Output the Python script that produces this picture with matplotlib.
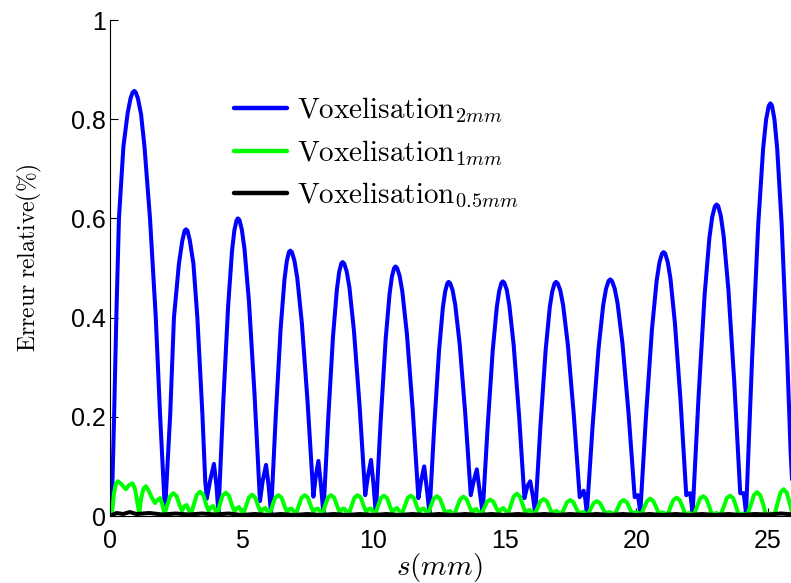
import matplotlib
matplotlib.use("Agg")
import matplotlib.pyplot as plt

# ---------------- data ----------------
s_2mm = [0.00, 0.07, 0.16, 0.24, 0.34, 0.51, 0.67, 0.78, 0.86, 0.92, 0.98, 1.06, 1.18, 1.31, 1.52, 1.74, 1.90, 2.00, 2.09,
         2.29, 2.43, 2.62, 2.748, 2.835, 2.89, 2.945, 3.032, 3.17, 3.32, 3.51, 3.62, 3.68, 3.80, 3.95, 4.05, 4.12,
         4.305, 4.49, 4.638, 4.727, 4.808, 4.86, 4.919, 5.011, 5.112, 5.28, 5.49, 5.616, 5.70, 5.80, 5.93, 6.03, 6.12,
         6.3025, 6.485, 6.631, 6.719, 6.799, 6.85, 6.912, 7.008, 7.114, 7.29, 7.51, 7.642, 7.73, 7.82, 7.92, 8.02, 8.11,
         8.2925, 8.475, 8.621, 8.709, 8.789, 8.84, 8.90, 8.995, 9.098, 9.27, 9.485, 9.614, 9.70, 9.80, 9.92, 10.02, 10.10,
         10.2875, 10.475, 10.625, 10.715, 10.798, 10.85, 10.911, 11.007, 11.111, 11.285, 11.503, 11.633, 11.72, 11.82, 11.94, 12.04, 12.14,
         12.3225, 12.505, 12.651, 12.739, 12.819, 12.87, 12.929, 13.021, 13.122, 13.29, 13.50, 13.626, 13.71, 13.82, 13.94, 14.05, 14.16,
         14.3525, 14.545, 14.699, 14.791, 14.876, 14.93, 14.987, 15.078, 15.176, 15.34, 15.545, 15.668, 15.75, 15.86, 15.97, 16.07, 16.16,
         16.3575, 16.555, 16.713, 16.808, 16.895, 16.95, 17.013, 17.112, 17.22, 17.40, 17.625, 17.76, 17.85, 17.93, 18.00, 18.06, 18.12,
         18.3425, 18.565, 18.743, 18.85, 18.948, 19.01, 19.075, 19.177, 19.289, 19.475, 19.708, 19.847, 19.94, 20.00, 20.06, 20.11, 20.15,
         20.3725, 20.595, 20.773, 20.88, 20.978, 21.04, 21.10, 21.195, 21.298, 21.47, 21.685, 21.814, 21.90, 21.98, 22.05, 22.10, 22.14,
         22.3675, 22.595, 22.777, 22.886, 22.986, 23.05, 23.113, 23.212, 23.32, 23.50, 23.725, 23.86, 23.95, 24.02, 24.08, 24.13, 24.17,
         24.4025, 24.635, 24.821, 24.933, 25.035, 25.10, 25.16, 25.253, 25.355, 25.525, 25.7375, 25.865, 25.95]
err_2mm = [0.000, 0.020, 0.210, 0.400, 0.600, 0.745, 0.812, 0.842, 0.854, 0.857, 0.854, 0.842, 0.810, 0.745, 0.600, 0.400, 0.207, 0.100, 0.008,
           0.207, 0.400, 0.509, 0.555, 0.575, 0.578, 0.575, 0.556, 0.509, 0.400, 0.207, 0.070, 0.035, 0.070, 0.105, 0.060, 0.005,
           0.230, 0.424, 0.535, 0.576, 0.596, 0.600, 0.597, 0.577, 0.538, 0.433, 0.248, 0.119, 0.030, 0.070, 0.103, 0.060, 0.005,
           0.205, 0.378, 0.477, 0.514, 0.532, 0.535, 0.532, 0.515, 0.481, 0.390, 0.229, 0.116, 0.039, 0.080, 0.111, 0.060, 0.005,
           0.196, 0.362, 0.456, 0.492, 0.509, 0.512, 0.509, 0.493, 0.461, 0.374, 0.222, 0.115, 0.042, 0.080, 0.113, 0.060, 0.005,
           0.193, 0.356, 0.448, 0.483, 0.500, 0.503, 0.500, 0.484, 0.452, 0.366, 0.215, 0.109, 0.036, 0.070, 0.100, 0.055, 0.005,
           0.181, 0.334, 0.421, 0.453, 0.469, 0.472, 0.469, 0.455, 0.425, 0.346, 0.207, 0.109, 0.042, 0.070, 0.094, 0.050, 0.005,
           0.181, 0.334, 0.421, 0.454, 0.470, 0.473, 0.470, 0.456, 0.425, 0.345, 0.203, 0.104, 0.036, 0.060, 0.070, 0.040, 0.005,
           0.181, 0.334, 0.421, 0.453, 0.469, 0.472, 0.469, 0.455, 0.425, 0.345, 0.204, 0.106, 0.038, 0.045, 0.051, 0.035, 0.005,
           0.183, 0.337, 0.425, 0.458, 0.474, 0.477, 0.474, 0.459, 0.429, 0.348, 0.206, 0.106, 0.038, 0.040, 0.042, 0.025, 0.005,
           0.204, 0.376, 0.474, 0.511, 0.529, 0.532, 0.529, 0.512, 0.479, 0.388, 0.230, 0.118, 0.042, 0.045, 0.046, 0.025, 0.005,
           0.241, 0.444, 0.560, 0.603, 0.624, 0.628, 0.625, 0.605, 0.565, 0.457, 0.269, 0.137, 0.046, 0.046, 0.046, 0.025, 0.005,
           0.319, 0.588, 0.741, 0.799, 0.827, 0.832, 0.827, 0.799, 0.741, 0.588, 0.319, 0.130, 0.040]

s_1mm = [0.00, 0.07, 0.15, 0.22, 0.30, 0.42, 0.60, 0.72, 0.85, 0.95, 1.03, 1.11, 1.18, 1.27, 1.36, 1.46, 1.58, 1.71, 1.80, 1.90, 1.98, 2.07,
         2.17, 2.29, 2.41, 2.53, 2.65, 2.74, 2.83, 2.91, 2.99, 3.07,
         3.18, 3.30, 3.42, 3.54, 3.66, 3.75, 3.84, 3.92, 4.00, 4.08,
         4.16, 4.28, 4.40, 4.52, 4.64, 4.73, 4.82, 4.90, 4.98, 5.06,
         5.16, 5.28, 5.40, 5.52, 5.64, 5.73, 5.82, 5.90, 5.98, 6.06,
         6.16, 6.28, 6.40, 6.52, 6.64, 6.73, 6.82, 6.90, 6.98, 7.06,
         7.16, 7.28, 7.40, 7.52, 7.64, 7.73, 7.82, 7.90, 7.98, 8.06,
         8.16, 8.28, 8.40, 8.52, 8.64, 8.73, 8.82, 8.90, 8.98, 9.06,
         9.17, 9.29, 9.41, 9.53, 9.65, 9.74, 9.83, 9.91, 9.99, 10.07,
         10.17, 10.29, 10.41, 10.53, 10.65, 10.74, 10.83, 10.91, 10.99, 11.07,
         11.19, 11.31, 11.43, 11.55, 11.67, 11.76, 11.85, 11.93, 12.01, 12.09,
         12.18, 12.30, 12.42, 12.54, 12.66, 12.75, 12.84, 12.92, 13.00, 13.08,
         13.19, 13.31, 13.43, 13.55, 13.67, 13.76, 13.85, 13.93, 14.01, 14.09,
         14.21, 14.33, 14.45, 14.57, 14.69, 14.78, 14.87, 14.95, 15.03, 15.11,
         15.22, 15.34, 15.46, 15.58, 15.70, 15.79, 15.88, 15.96, 16.04, 16.12,
         16.24, 16.36, 16.48, 16.60, 16.72, 16.81, 16.90, 16.98, 17.06, 17.14,
         17.25, 17.37, 17.49, 17.61, 17.73, 17.82, 17.91, 17.99, 18.07, 18.15,
         18.26, 18.38, 18.50, 18.62, 18.74, 18.83, 18.92, 19.00, 19.08, 19.16,
         19.28, 19.40, 19.52, 19.64, 19.76, 19.85, 19.94, 20.02, 20.10, 20.18,
         20.29, 20.41, 20.53, 20.65, 20.77, 20.86, 20.95, 21.03, 21.11, 21.19,
         21.29, 21.41, 21.53, 21.65, 21.77, 21.86, 21.95, 22.03, 22.11, 22.19,
         22.30, 22.42, 22.54, 22.66, 22.78, 22.87, 22.96, 23.04, 23.12, 23.20,
         23.32, 23.44, 23.56, 23.68, 23.80, 23.89, 23.98, 24.06, 24.14, 24.22,
         24.35, 24.47, 24.59, 24.71, 24.83, 24.92, 25.01, 25.09, 25.17, 25.25,
         25.36, 25.48, 25.60, 25.72, 25.84, 25.93]
err_1mm = [0.000, 0.002, 0.045, 0.065, 0.070, 0.065, 0.054, 0.062, 0.066, 0.055, 0.030, 0.005, 0.035, 0.055, 0.060, 0.052, 0.038, 0.026, 0.032, 0.036, 0.025, 0.004,
           0.021, 0.040, 0.046, 0.040, 0.021, 0.011, 0.020, 0.022, 0.013, 0.002,
           0.022, 0.043, 0.049, 0.043, 0.022, 0.010, 0.018, 0.020, 0.012, 0.002,
           0.021, 0.041, 0.047, 0.041, 0.021, 0.009, 0.016, 0.018, 0.011, 0.002,
           0.019, 0.037, 0.043, 0.037, 0.019, 0.008, 0.014, 0.016, 0.010, 0.002,
           0.019, 0.037, 0.042, 0.037, 0.019, 0.008, 0.014, 0.015, 0.009, 0.002,
           0.019, 0.037, 0.042, 0.037, 0.019, 0.008, 0.014, 0.015, 0.009, 0.002,
           0.019, 0.037, 0.042, 0.037, 0.019, 0.008, 0.014, 0.015, 0.009, 0.002,
           0.019, 0.037, 0.042, 0.037, 0.019, 0.008, 0.014, 0.015, 0.009, 0.002,
           0.018, 0.036, 0.041, 0.036, 0.018, 0.008, 0.014, 0.016, 0.010, 0.002,
           0.018, 0.036, 0.041, 0.036, 0.018, 0.008, 0.014, 0.015, 0.009, 0.002,
           0.018, 0.035, 0.040, 0.035, 0.018, 0.005, 0.009, 0.010, 0.006, 0.002,
           0.018, 0.034, 0.039, 0.034, 0.018, 0.007, 0.013, 0.014, 0.008, 0.002,
           0.015, 0.029, 0.033, 0.029, 0.015, 0.008, 0.014, 0.016, 0.010, 0.002,
           0.020, 0.039, 0.045, 0.039, 0.020, 0.006, 0.011, 0.012, 0.007, 0.002,
           0.015, 0.030, 0.034, 0.030, 0.015, 0.005, 0.009, 0.010, 0.006, 0.002,
           0.014, 0.028, 0.032, 0.028, 0.014, 0.004, 0.007, 0.008, 0.005, 0.002,
           0.014, 0.026, 0.030, 0.026, 0.014, 0.004, 0.007, 0.008, 0.005, 0.002,
           0.014, 0.028, 0.032, 0.028, 0.014, 0.004, 0.007, 0.008, 0.005, 0.002,
           0.016, 0.030, 0.035, 0.030, 0.016, 0.004, 0.006, 0.007, 0.004, 0.002,
           0.017, 0.032, 0.037, 0.032, 0.017, 0.003, 0.005, 0.006, 0.004, 0.002,
           0.018, 0.035, 0.040, 0.035, 0.018, 0.003, 0.005, 0.006, 0.004, 0.002,
           0.018, 0.036, 0.041, 0.036, 0.018, 0.003, 0.004, 0.005, 0.003, 0.002,
           0.022, 0.042, 0.048, 0.042, 0.022, 0.003, 0.004, 0.005, 0.003, 0.002,
           0.024, 0.047, 0.054, 0.047, 0.024, 0.005]

s_05mm = [0.0, 0.25, 0.5, 0.75, 1.0, 1.5, 2.0, 2.5, 3.0, 3.5, 4.0, 4.5, 5.0, 5.5, 6.0, 6.5, 7.0, 7.5, 8.0, 8.5,
          9.0, 9.5, 10.0, 10.5, 11.0, 11.5, 12.0, 12.5, 13.0, 13.5, 14.0, 14.5, 15.0, 15.5, 16.0, 16.5, 17.0,
          17.5, 18.0, 18.5, 19.0, 19.5, 20.0, 20.5, 21.0, 21.5, 22.0, 22.5, 23.0, 23.5, 24.0, 24.5, 25.0, 25.5, 26.0]
err_05mm = [0.000, 0.006, 0.004, 0.008, 0.004, 0.006, 0.003, 0.005, 0.003, 0.005, 0.003, 0.005, 0.002, 0.004, 0.002, 0.004, 0.002, 0.004, 0.002, 0.004,
            0.002, 0.004, 0.002, 0.004, 0.002, 0.004, 0.002, 0.004, 0.002, 0.004, 0.002, 0.004, 0.002, 0.004, 0.002, 0.004, 0.002,
            0.004, 0.002, 0.004, 0.002, 0.004, 0.002, 0.004, 0.002, 0.004, 0.002, 0.004, 0.002, 0.004, 0.002, 0.004, 0.003, 0.005, 0.003]

labels = [r'$\mathrm{Voxelisation}_{2mm}$', r'$\mathrm{Voxelisation}_{1mm}$', r'$\mathrm{Voxelisation}_{0.5mm}$']
colors = ['#0000ff', '#00ff00', '#000000']
xticks = [0, 5, 10, 15, 20, 25]
yticks = [0, 0.2, 0.4, 0.6, 0.8, 1]
ytick_labels = ['0', '0.2', '0.4', '0.6', '0.8', '1']

# ---------------- figure ----------------
plt.rcParams['mathtext.fontset'] = 'cm'
plt.rcParams['font.family'] = ['Liberation Sans', 'DejaVu Sans']

W, H = 791, 583
fig = plt.figure(figsize=(W / 100, H / 100), dpi=100)
ax = fig.add_axes([110 / W, 67 / H, 681 / W, 496 / H])

for xs, ys, c, lab in zip([s_2mm, s_1mm, s_05mm], [err_2mm, err_1mm, err_05mm], colors, labels):
    ax.plot(xs, ys, color=c, lw=2.9, label=lab, solid_joinstyle='round', solid_capstyle='round')

ax.set_xlim(0, 25.88)
ax.set_ylim(0, 1)
ax.set_xticks(xticks)
ax.set_xticklabels([str(t) for t in xticks])
ax.set_yticks(yticks)
ax.set_yticklabels(ytick_labels)
ax.tick_params(direction='in', length=6, width=0.8, labelsize=18)
ax.tick_params(axis='y', pad=3)
ax.tick_params(axis='x', pad=9)
for side in ['top', 'right']:
    ax.spines[side].set_visible(False)
for side in ['left', 'bottom']:
    ax.spines[side].set_linewidth(0.8)

ax.set_xlabel(r'$s(mm)$', fontsize=21)
ax.xaxis.set_label_coords((439 - 110) / 681, -0.07)
ax.set_ylabel(r'$\mathrm{Erreur\ relative(\%)}$', fontsize=17)
ax.yaxis.set_label_coords((44 - 110) / 681, (516 - 258) / 496)

leg = ax.legend(loc='upper left', bbox_to_anchor=((234 - 110) / 681, (516 - 95) / 496),
                frameon=False, fontsize=21, handlelength=1.8, handletextpad=0.35,
                labelspacing=0.45, borderpad=0, borderaxespad=0)
for line in leg.get_lines():
    line.set_linewidth(3.2)

fig.savefig('out.png', dpi=100)
